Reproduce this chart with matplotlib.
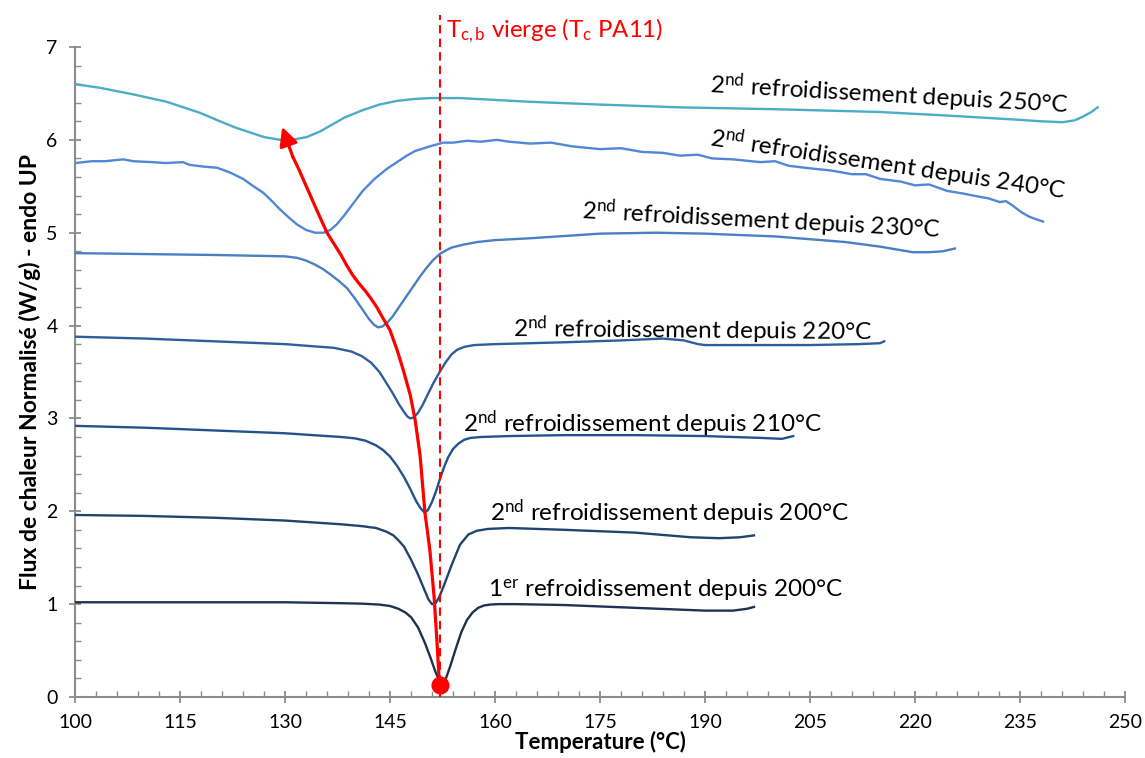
import matplotlib
matplotlib.use("Agg")
import matplotlib.pyplot as plt

plt.rcParams['font.family'] = ['Lato', 'DejaVu Sans']
plt.rcParams['mathtext.fontset'] = 'custom'
plt.rcParams['mathtext.rm'] = 'Lato'
plt.rcParams['mathtext.it'] = 'Lato:italic'
plt.rcParams['mathtext.bf'] = 'Lato:bold'

# ---------------- data ----------------
t_1er200 = [100, 110, 120, 130, 138, 141, 143.5, 145, 146.2, 147.2, 148.0, 149.0, 150.0, 150.8,
            151.5, 152.2, 152.9, 153.6, 154.4, 155.2, 156.0, 156.8, 157.6, 158.4, 159.3, 160.5,
            163, 170, 180, 190, 194, 196, 197]
y_1er200 = [1.02, 1.02, 1.02, 1.02, 1.01, 1.005, 0.995, 0.98, 0.95, 0.91, 0.86, 0.75, 0.58, 0.42,
            0.27, 0.15, 0.18, 0.33, 0.52, 0.7, 0.83, 0.91, 0.96, 0.985, 0.995, 1.0,
            1.0, 0.99, 0.96, 0.93, 0.93, 0.95, 0.97]

t_2e200 = [100, 110, 120, 130, 138, 141, 143, 144.5, 145.5, 146.3, 147, 148, 149, 150,
           150.5, 151, 151.5, 152, 152.6, 153.8, 155, 156.2, 157.4, 159, 162, 170, 180, 188,
           192, 195, 197]
y_2e200 = [1.96, 1.95, 1.93, 1.9, 1.86, 1.84, 1.82, 1.78, 1.74, 1.68, 1.62, 1.48, 1.32, 1.14,
           1.05, 1.0, 1.01, 1.07, 1.18, 1.42, 1.64, 1.75, 1.79, 1.81, 1.82, 1.8, 1.77, 1.72,
           1.71, 1.72, 1.74]

t_2e210 = [100, 110, 120, 130, 138, 140, 141.5, 143, 144, 145, 146, 147, 147.9, 148.8, 149.4,
           149.9, 150.4, 151.0, 151.6, 152.1, 152.7, 153.3, 154.0, 154.8, 155.6, 156.5, 158, 162,
           170, 180, 190, 198, 201, 202.6]
y_2e210 = [2.92, 2.9, 2.87, 2.84, 2.8, 2.785, 2.76, 2.71, 2.66, 2.59, 2.49, 2.37, 2.24, 2.1, 2.03,
           1.99, 2.01, 2.1, 2.22, 2.34, 2.47, 2.58, 2.67, 2.73, 2.77, 2.79, 2.8, 2.81,
           2.82, 2.82, 2.81, 2.79, 2.78, 2.81]

t_2e220 = [100, 110, 120, 130, 137, 139.5, 141, 142.3, 143.5, 144.5, 145.4, 146.3, 147.0,
           147.5, 147.9, 148.4, 149.0, 149.7, 150.4, 151.2, 152.1, 153.0, 153.8, 154.6, 155.6,
           157.0, 160, 170, 178, 184, 187, 189, 190, 195, 205, 212, 215, 215.6]
y_2e220 = [3.88, 3.86, 3.83, 3.8, 3.76, 3.72, 3.67, 3.6, 3.5, 3.38, 3.27, 3.15, 3.07,
           3.02, 3.0, 3.01, 3.06, 3.15, 3.26, 3.38, 3.5, 3.61, 3.69, 3.74, 3.77,
           3.79, 3.8, 3.82, 3.84, 3.86, 3.84, 3.8, 3.79, 3.79, 3.79, 3.8, 3.81, 3.83]

t_2e230 = [100, 110, 120, 127, 130, 131.7, 133, 134.2, 135.4, 136.5, 137.7, 138.9, 140, 141.1,
           142.0, 142.7, 143.3, 143.9, 144.6, 145.4, 146.3, 147.3, 148.3, 149.3, 150.2, 151.1,
           152.1, 153.0, 153.8, 155.4, 157.5, 160, 165, 175, 183, 190, 200, 210, 215, 219.7,
           222, 224, 225.7]
y_2e230 = [4.78, 4.77, 4.76, 4.75, 4.745, 4.73, 4.7, 4.66, 4.61, 4.55, 4.48, 4.4, 4.29, 4.17,
           4.07, 4.01, 3.98, 3.99, 4.03, 4.1, 4.2, 4.31, 4.42, 4.53, 4.62, 4.7,
           4.77, 4.81, 4.84, 4.87, 4.9, 4.92, 4.94, 4.99, 5.0, 4.99, 4.96, 4.9, 4.85, 4.79,
           4.79, 4.8, 4.83]

t_2e240 = [100, 102.4, 104.3, 106.9, 108.3, 111.1, 112.9, 115.4, 116.4, 118.6, 120.3, 122.1,
           124, 125.5, 126.9, 128, 129.3, 130.6, 131.7, 133, 134.3, 135.5, 136.5, 137.4, 138.5,
           139.8, 141.1, 142.8, 144.6, 145.8, 147.4, 148.6, 150.7, 152.6, 154, 156, 158, 160.3,
           162, 165, 168, 171, 175, 178, 181, 184, 186.4, 189, 191, 194, 197.9, 200, 202,
           205.4, 208, 211, 213, 215, 218, 220, 222, 224.6, 227, 229, 230.5, 232.1, 233, 234,
           235.2, 236.4, 237.5, 238.3]
y_2e240 = [5.75, 5.77, 5.77, 5.79, 5.77, 5.76, 5.75, 5.76, 5.73, 5.71, 5.70, 5.65,
           5.58, 5.5, 5.43, 5.35, 5.25, 5.16, 5.09, 5.03, 5.0, 5.0, 5.03, 5.09, 5.19,
           5.32, 5.45, 5.58, 5.69, 5.75, 5.83, 5.88, 5.93, 5.97, 5.97, 5.99, 5.98, 6.0,
           5.98, 5.96, 5.97, 5.93, 5.9, 5.91, 5.87, 5.86, 5.83, 5.84, 5.8, 5.79, 5.76, 5.77, 5.72,
           5.69, 5.67, 5.63, 5.63, 5.58, 5.55, 5.51, 5.52, 5.45, 5.42, 5.39, 5.37, 5.33, 5.34, 5.29,
           5.22, 5.17, 5.14, 5.12]

t_2e250 = [100, 103.6, 108.3, 113.1, 117.9, 120.7, 123, 125, 127, 129.3, 131, 133.1, 135,
           136.4, 138.5, 141.1, 143.5, 146, 148.5, 150.7, 155, 160, 165, 175, 186.4, 200, 215,
           225, 234, 238, 241.1, 242.8, 244, 245.2, 246.1]
y_2e250 = [6.6, 6.56, 6.49, 6.41, 6.29, 6.2, 6.13, 6.08, 6.03, 6.0, 6.0, 6.03, 6.09,
           6.15, 6.24, 6.32, 6.38, 6.42, 6.44, 6.45, 6.45, 6.43, 6.41, 6.38, 6.35, 6.33, 6.3,
           6.26, 6.22, 6.2, 6.19, 6.21, 6.25, 6.3, 6.35]

series_colors = ['#1d3250', '#1f4470', '#25518a', '#2e5e9c', '#4a7fc4', '#5087d6', '#4bacc6']

labels = [r"1$^{\mathrm{er}}$ refroidissement depuis 200°C",
          r"2$^{\mathrm{nd}}$ refroidissement depuis 200°C",
          r"2$^{\mathrm{nd}}$ refroidissement depuis 210°C",
          r"2$^{\mathrm{nd}}$ refroidissement depuis 220°C",
          r"2$^{\mathrm{nd}}$ refroidissement depuis 230°C",
          r"2$^{\mathrm{nd}}$ refroidissement depuis 240°C",
          r"2$^{\mathrm{nd}}$ refroidissement depuis 250°C"]
label_x = [159.0, 159.3, 155.4, 162.6, 198.0, 216.1, 216.3]
label_y = [1.15, 1.98, 2.94, 3.97, 5.13, 5.74, 6.48]
label_rot = [0, 0, 0, -0.5, -3, -8.5, -3.2]

tc_virgin = 152.14
tc_point_y = 0.13
arrow_t = [152.2, 152.0, 151.7, 151.3, 150.7, 150.0, 149.3, 148.6, 147.9, 146.9, 146.0, 145.0,
           144.0, 143.1, 142.2, 141.4, 140.5, 139.7, 138.8, 138.0, 137.0, 136.0, 134.5, 133.1,
           132.0, 131.1]
arrow_y = [0.13, 0.22, 0.61, 1.08, 1.58, 1.98, 2.6, 2.98, 3.25, 3.52, 3.74, 3.95,
           4.08, 4.2, 4.3, 4.38, 4.46, 4.54, 4.65, 4.76, 4.88, 5.0, 5.25, 5.49, 5.68, 5.82]
arrow_tip = (129.6, 6.14)

# ---------------- figure ----------------
fig = plt.figure(figsize=(11.45, 7.58), dpi=100)
ax = fig.add_axes([0.0655, 0.0805, 0.917, 0.8575])

all_t = [t_1er200, t_2e200, t_2e210, t_2e220, t_2e230, t_2e240, t_2e250]
all_y = [y_1er200, y_2e200, y_2e210, y_2e220, y_2e230, y_2e240, y_2e250]
for t, y, c in zip(all_t, all_y, series_colors):
    ax.plot(t, y, color=c, lw=1.7, solid_joinstyle='round', zorder=3)

for txt, x, y, r in zip(labels, label_x, label_y, label_rot):
    if r > -1:
        ax.text(x, y, txt, fontsize=17.5, ha='left', va='center', rotation=r,
                rotation_mode='anchor', color='black', zorder=5)
    else:
        ax.text(x, y, txt, fontsize=17.5, ha='center', va='center',
                rotation=r, rotation_mode='anchor', color='black', zorder=5)

# red dashed line
ax.plot([tc_virgin, tc_virgin], [0, 7.34], color='red', lw=1.5, ls=(0, (4, 2.5)),
        clip_on=False, zorder=4)
ax.text(tc_virgin + 0.9, 7.18, r"T$_{\mathrm{c,b}}$ vierge (T$_{\mathrm{c}}$ PA11)",
        color='red', fontsize=17.3, ha='left', va='center', clip_on=False)

# red arrow
ax.plot(arrow_t, arrow_y, color='red', lw=2.3, zorder=6, solid_capstyle='round',
        solid_joinstyle='round')
ax.annotate('', xy=arrow_tip, xytext=(arrow_t[-1], arrow_y[-1]),
            arrowprops=dict(arrowstyle='-|>', color='red', lw=2.3, mutation_scale=28,
                            shrinkA=0, shrinkB=0), zorder=6)
ax.plot([tc_virgin], [tc_point_y], 'o', color='red', ms=12, zorder=7, clip_on=False)

# axes styling
ax.set_xlim(100, 250)
ax.set_ylim(0, 7)
ax.set_xticks(range(100, 251, 15))
ax.set_xticks(range(100, 251, 3), minor=True)
ax.set_yticks(range(0, 8))
ax.set_yticks([i * 0.2 for i in range(36)], minor=True)
for s in ['top', 'right']:
    ax.spines[s].set_visible(False)
for s in ['left', 'bottom']:
    ax.spines[s].set_color('#8c8c8c')
    ax.spines[s].set_linewidth(1.5)
ax.tick_params(axis='both', which='major', direction='inout', length=9, width=1.3,
               color='#8c8c8c', labelsize=14)
ax.tick_params(axis='both', which='minor', direction='in', length=4, width=1.0,
               color='#8c8c8c')
ax.tick_params(axis='x', which='major', pad=8)
ax.tick_params(axis='y', which='major', pad=8)
ax.set_xlabel('Temperature (°C)', fontsize=16, fontweight='bold', labelpad=0)
ax.set_ylabel('Flux de chaleur Normalisé (W/g) - endo UP', fontsize=16.5, fontweight='bold',
              labelpad=4)

fig.savefig('out.png', dpi=100)
